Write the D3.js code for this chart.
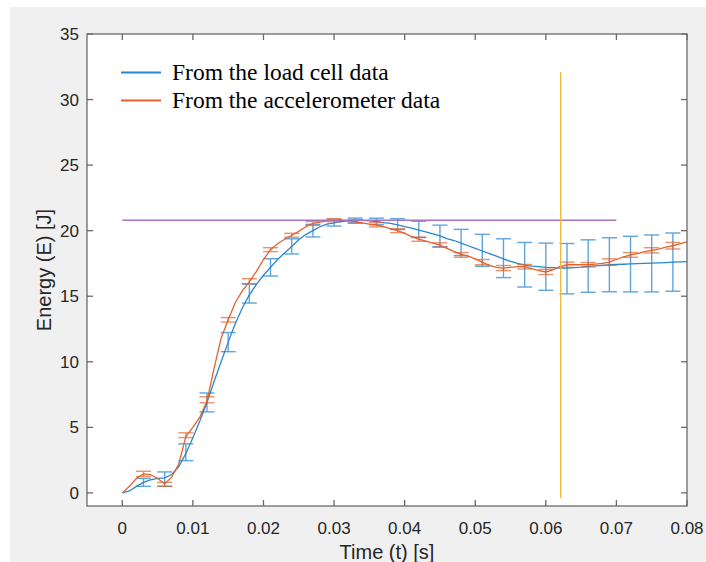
<!DOCTYPE html>
<html>
<head>
<meta charset="utf-8">
<script src="https://cdn.jsdelivr.net/npm/d3@7"></script>
<style>
  html, body { margin: 0; padding: 0; background: #fff; }
  svg { display: block; }
</style>
</head>
<body>
<svg width="706" height="562"></svg>
<script>
const svg = d3.select('svg');

// line samples, every 1 ms from 0 to 0.08 s
const T_STEP = 0.001;
const loadCell = [0, 0.15, 0.5, 0.8, 1.0, 1.1, 1.15, 1.4, 2.0, 3.0,
  4.2, 5.5, 6.9, 8.5, 10.0, 11.5, 12.9, 14.1, 15.1, 15.9,
  16.6, 17.2, 17.8, 18.3, 18.8, 19.3, 19.7, 20.0, 20.3, 20.5,
  20.6, 20.7, 20.75, 20.78, 20.78, 20.75, 20.7, 20.62, 20.55, 20.45,
  20.3, 20.2, 20.05, 19.9, 19.75, 19.6, 19.4, 19.25, 19.05, 18.85,
  18.65, 18.45, 18.25, 18.05, 17.85, 17.65, 17.5, 17.38, 17.3, 17.25,
  17.2, 17.18, 17.15, 17.15, 17.18, 17.22, 17.28, 17.32, 17.36, 17.4,
  17.42, 17.44, 17.46, 17.48, 17.5, 17.52, 17.55, 17.57, 17.6, 17.62, 17.64];
const accel = [0, 0.5, 1.1, 1.45, 1.4, 1.1, 0.7, 1.2, 2.2, 4.3,
  5.0, 5.8, 7.0, 9.5, 11.8, 13.2, 14.5, 15.4, 16.1, 16.9,
  17.8, 18.55, 19.0, 19.35, 19.65, 19.95, 20.3, 20.55, 20.65, 20.75,
  20.8, 20.8, 20.75, 20.7, 20.6, 20.5, 20.45, 20.3, 20.15, 20.0,
  19.8, 19.55, 19.35, 19.2, 19.05, 18.9, 18.65, 18.4, 18.2, 18.05,
  17.85, 17.6, 17.35, 17.2, 17.15, 17.2, 17.25, 17.25, 17.1, 16.95,
  16.85, 17.0, 17.25, 17.4, 17.4, 17.4, 17.4, 17.45, 17.5, 17.6,
  17.8, 18.0, 18.15, 18.25, 18.4, 18.5, 18.6, 18.75, 18.85, 19.0, 19.15];

// error bars
const errTimes = [0.003, 0.006, 0.009, 0.012, 0.015, 0.018, 0.021, 0.024, 0.027, 0.030,
  0.033, 0.036, 0.039, 0.042, 0.045, 0.048, 0.051, 0.054, 0.057, 0.060,
  0.063, 0.066, 0.069, 0.072, 0.075, 0.078];
const loadMean = [0.8, 1.05, 3.1, 6.9, 11.5, 15.2, 17.2, 18.8, 20.0, 20.6,
  20.78, 20.7, 20.5, 20.1, 19.6, 19.1, 18.5, 17.9, 17.4, 17.25,
  17.1, 17.3, 17.4, 17.45, 17.5, 17.6];
const loadErr = [0.3, 0.55, 0.64, 0.72, 0.73, 0.72, 0.66, 0.58, 0.48, 0.25,
  0.18, 0.25, 0.41, 0.62, 0.82, 1.0, 1.22, 1.48, 1.7, 1.8,
  1.92, 2.0, 2.06, 2.12, 2.17, 2.22];
const accMean = [1.45, 0.65, 4.4, 7.1, 13.2, 16.15, 18.55, 19.65, 20.55, 20.8,
  20.7, 20.45, 20.0, 19.35, 18.9, 18.15, 17.6, 17.15, 17.25, 16.85,
  17.4, 17.4, 17.6, 18.15, 18.5, 18.85];
const accErr = [0.2, 0.15, 0.18, 0.23, 0.17, 0.19, 0.15, 0.15, 0.15, 0.12,
  0.14, 0.16, 0.15, 0.16, 0.17, 0.18, 0.2, 0.19, 0.17, 0.2,
  0.2, 0.17, 0.25, 0.18, 0.2, 0.25];

const refLevel = 20.8;      // horizontal reference, 0 .. 0.07 s
const refEnd = 0.07;
const markTime = 0.0621;    // vertical marker
const markRange = [-0.4, 32.1];

const xTicks = [0, 0.01, 0.02, 0.03, 0.04, 0.05, 0.06, 0.07, 0.08];
const yTicks = [0, 5, 10, 15, 20, 25, 30, 35];
const legendLabels = ['From the load cell data', 'From the accelerometer data'];

const BLUE = '#2a86cf';
const ORANGE = '#e2622c';

// figure background
svg.append('rect').attr('x', 10).attr('y', 7).attr('width', 696).attr('height', 555)
  .attr('fill', '#f0f0f0');

const pl = 87, pr = 687, pt = 34, pb = 506;
const x = d3.scaleLinear().domain([-0.005, 0.08]).range([pl, pr]);
const y = d3.scaleLinear().domain([-1, 35]).range([pb, pt]);

svg.append('rect').attr('x', pl).attr('y', pt)
  .attr('width', pr - pl).attr('height', pb - pt).attr('fill', '#fff');

svg.append('clipPath').attr('id', 'clip')
  .append('rect').attr('x', pl).attr('y', pt)
  .attr('width', pr - pl).attr('height', pb - pt);

const plot = svg.append('g').attr('clip-path', 'url(#clip)');

const line = d3.line().x((d, i) => x(i * T_STEP)).y(d => y(d));

function drawErrorBars(mean, err, color, opacity) {
  const g = plot.append('g').attr('stroke', color).attr('stroke-width', 1.4)
    .attr('opacity', opacity);
  const cap = 7.5;
  errTimes.forEach((t, i) => {
    const cx = x(t), lo = y(mean[i] - err[i]), hi = y(mean[i] + err[i]);
    g.append('line').attr('x1', cx).attr('x2', cx).attr('y1', lo).attr('y2', hi);
    g.append('line').attr('x1', cx - cap).attr('x2', cx + cap).attr('y1', lo).attr('y2', lo);
    g.append('line').attr('x1', cx - cap).attr('x2', cx + cap).attr('y1', hi).attr('y2', hi);
  });
}

plot.append('path').datum(loadCell).attr('d', line)
  .attr('fill', 'none').attr('stroke', BLUE).attr('stroke-width', 1.3);
drawErrorBars(loadMean, loadErr, BLUE, 0.75);

plot.append('path').datum(accel).attr('d', line)
  .attr('fill', 'none').attr('stroke', ORANGE).attr('stroke-width', 1.3);
drawErrorBars(accMean, accErr, ORANGE, 0.7);

// reference lines
plot.append('line').attr('x1', x(0)).attr('x2', x(refEnd))
  .attr('y1', y(refLevel)).attr('y2', y(refLevel))
  .attr('stroke', '#a574bd').attr('stroke-width', 1.5);
plot.append('line').attr('x1', x(markTime)).attr('x2', x(markTime))
  .attr('y1', y(markRange[0])).attr('y2', y(markRange[1]))
  .attr('stroke', '#f0b838').attr('stroke-width', 1.3);

// axes box and ticks
const axisColor = '#6a6a6a';
const tickLen = 6;
const axes = svg.append('g').attr('stroke', axisColor).attr('stroke-width', 1.3);
axes.append('rect').attr('x', pl).attr('y', pt)
  .attr('width', pr - pl).attr('height', pb - pt).attr('fill', 'none');
xTicks.forEach(t => {
  axes.append('line').attr('x1', x(t)).attr('x2', x(t)).attr('y1', pb).attr('y2', pb - tickLen);
  axes.append('line').attr('x1', x(t)).attr('x2', x(t)).attr('y1', pt).attr('y2', pt + tickLen);
});
yTicks.forEach(v => {
  axes.append('line').attr('x1', pl).attr('x2', pl + tickLen).attr('y1', y(v)).attr('y2', y(v));
  axes.append('line').attr('x1', pr).attr('x2', pr - tickLen).attr('y1', y(v)).attr('y2', y(v));
});

const font = '"Liberation Sans", Arial, sans-serif';
svg.append('g').selectAll('text').data(xTicks).enter().append('text')
  .attr('x', d => x(d)).attr('y', 534)
  .attr('text-anchor', 'middle')
  .attr('font-family', font).attr('font-size', 17).attr('fill', '#262626')
  .text(d => d3.format('~g')(d));
svg.append('g').selectAll('text').data(yTicks).enter().append('text')
  .attr('x', 79).attr('y', d => y(d)).attr('dy', '0.35em')
  .attr('text-anchor', 'end')
  .attr('font-family', font).attr('font-size', 17).attr('fill', '#262626')
  .text(d => d);

svg.append('text').attr('x', (pl + pr) / 2).attr('y', 559)
  .attr('text-anchor', 'middle').attr('font-family', font).attr('font-size', 20)
  .attr('fill', '#262626').text('Time (t) [s]');
svg.append('text').attr('transform', `translate(51,${(pt + pb) / 2}) rotate(-90)`)
  .attr('text-anchor', 'middle').attr('font-family', font).attr('font-size', 20)
  .attr('fill', '#262626').text('Energy (E) [J]');

// legend
const legend = svg.append('g');
[BLUE, ORANGE].forEach((c, i) => {
  const ly = 72.5 + i * 28;
  legend.append('line').attr('x1', 121).attr('x2', 161).attr('y1', ly).attr('y2', ly)
    .attr('stroke', c).attr('stroke-width', 2);
  legend.append('text').attr('x', 172).attr('y', ly + 7)
    .attr('font-family', '"Liberation Serif", "Times New Roman", serif')
    .attr('font-size', 23.5).attr('fill', '#000').text(legendLabels[i]);
});
</script>
</body>
</html>
